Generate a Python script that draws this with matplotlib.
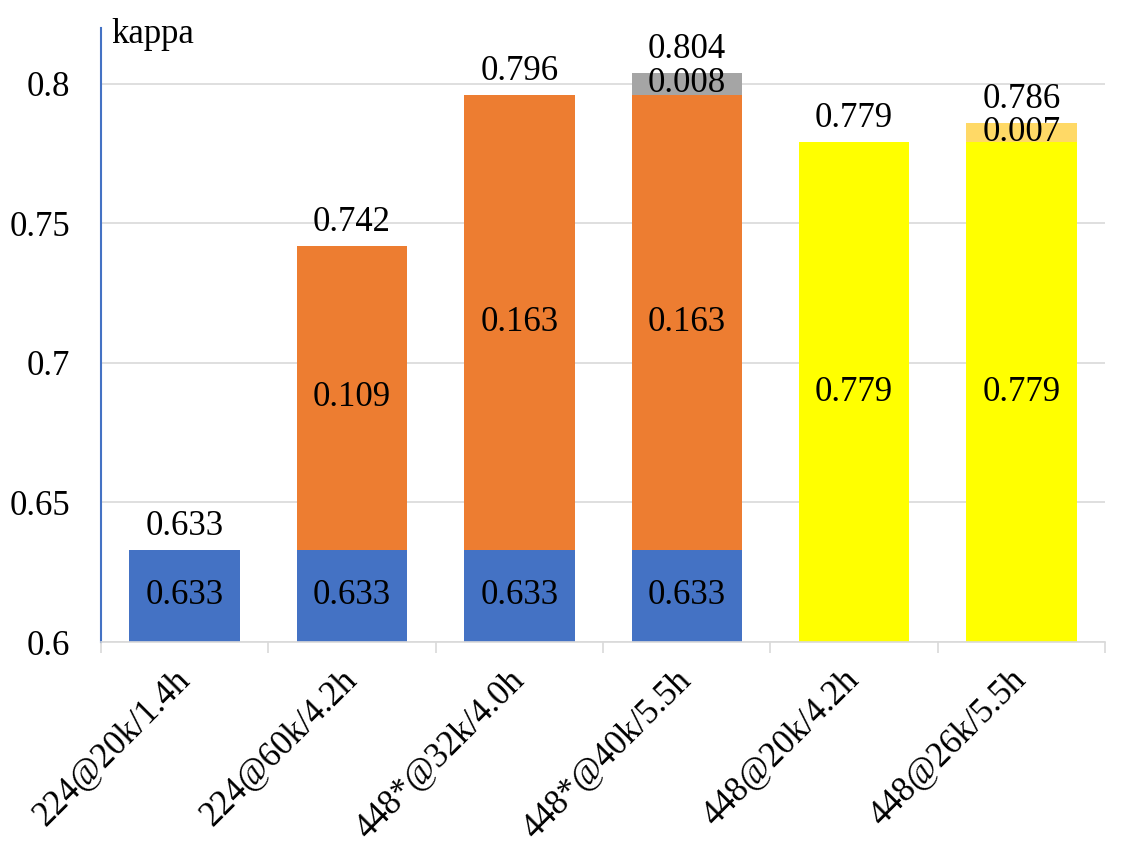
import numpy as np
import matplotlib.pyplot as plt

# --- Datos ---
categories = ["224@20k/1.4h", "224@60k/4.2h", "448*@32k/4.0h",
              "448*@40k/5.5h", "448@20k/4.2h", "448@26k/5.5h"]
base_224 = [0.633, 0.633, 0.633, 0.633, 0, 0]
gain_448s = [0, 0.109, 0.163, 0.163, 0, 0]
gain_448s_extra = [0, 0, 0, 0.008, 0, 0]
base_448 = [0, 0, 0, 0, 0.779, 0.779]
gain_448_extra = [0, 0, 0, 0, 0, 0.007]
totals = [0.633, 0.742, 0.796, 0.804, 0.779, 0.786]

series = [base_224, gain_448s, gain_448s_extra, base_448, gain_448_extra]
colors = ["#4472C4", "#ED7D31", "#A5A5A5", "#FFFF00", "#FFD966"]

YMIN, YMAX = 0.6, 0.82

plt.rcParams['font.family'] = ['Liberation Serif', 'DejaVu Serif']
FS = 25

fig = plt.figure(figsize=(11.29, 8.55), dpi=100)
ax = fig.add_axes([0.0895, 0.2491, 0.8893, 0.7182])

x = np.arange(len(categories))
bottom = np.zeros(len(categories))
for vals, col in zip(series, colors):
    vals = np.array(vals, dtype=float)
    ax.bar(x, vals, 0.66, bottom=bottom, color=col, zorder=2)
    for i, v in enumerate(vals):
        if v <= 0:
            continue
        lo = max(bottom[i], YMIN)
        hi = bottom[i] + v
        ax.text(x[i], (lo + hi) / 2, f"{v:.3f}", ha='center', va='center',
                fontsize=FS, zorder=3)
    bottom += vals

for i, t in enumerate(totals):
    ax.annotate(f"{t:.3f}", (x[i], t), xytext=(0, 5), textcoords='offset points',
                ha='center', va='bottom', fontsize=FS)

ax.set_xlim(-0.5, len(categories) - 0.5)
ax.set_ylim(YMIN, YMAX)
ax.set_yticks([0.6, 0.65, 0.7, 0.75, 0.8])
ax.set_yticklabels(["0.6", "0.65", "0.7", "0.75", "0.8"])
ax.yaxis.grid(True, color='#D9D9D9', lw=1.2, zorder=0)
ax.set_axisbelow(True)

ax.set_xticks(x)
ax.set_xticklabels(categories, rotation=45, ha='right', va='center',
                   rotation_mode='anchor')
ax.set_xticks(np.arange(-0.5, len(categories)), minor=True)
ax.tick_params(axis='x', which='major', length=0, pad=24, labelsize=FS)
ax.tick_params(axis='x', which='minor', length=8, width=1.2, color='#D9D9D9')
ax.tick_params(axis='y', length=0, pad=22, labelsize=FS)

for s in ['top', 'right']:
    ax.spines[s].set_visible(False)
ax.spines['bottom'].set_color('#D9D9D9')
ax.spines['bottom'].set_linewidth(1.2)
ax.spines['left'].set_color('#4472C4')
ax.spines['left'].set_linewidth(1.5)

ax.text(0.01, 0.99, "kappa", transform=ax.transAxes, ha='left', va='center',
        fontsize=FS)

fig.savefig("out.png", dpi=100)
